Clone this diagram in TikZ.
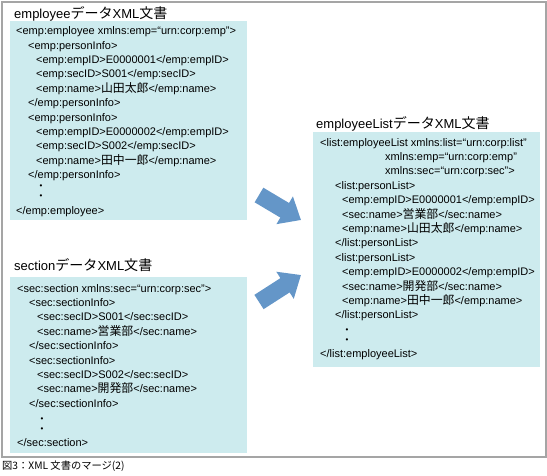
\documentclass[tikz,border=0pt]{standalone}
\usepackage{fontspec}
\setmainfont{Liberation Sans}
\newfontfamily\cjk[Scale=1.08]{Noto Sans CJK JP}
\usetikzlibrary{arrows.meta}
\newcommand\jp[1]{{\cjk #1}}
\newcommand\ia{\hspace*{12pt}}
\newcommand\ib{\hspace*{20pt}}
\newcommand\vdot{\hspace*{3.5pt}{\fontsize{8}{8}\selectfont\textbullet}}
\definecolor{boxcyan}{RGB}{205,235,238}
\definecolor{arrowblue}{RGB}{100,150,200}
\definecolor{framegray}{RGB}{165,165,165}
\tikzstyle{xmlbox} = [fill=boxcyan, rectangle, anchor=north west, inner sep=0]
\tikzstyle{xmltext} = [anchor=north west, align=left, inner sep=0,
font=\fontsize{11}{14.4}\selectfont]
\tikzstyle{doctitle} = [anchor=west, inner sep=0, font=\fontsize{13}{15}\selectfont]
\tikzstyle{bigarrow} = [draw=arrowblue, line width=17pt,
-{Triangle[length=19pt,width=31pt]}]

\begin{document}
\begin{tikzpicture}[x=1pt, y=-1pt]
    \useasboundingbox (0,0) rectangle (547,475);
    % the frame and the caption
    \node [draw=framegray, line width=1.5pt, rectangle, anchor=north west,
    minimum width=544pt, minimum height=455pt] (frame) at (1,1) {};
    \node [anchor=west, inner sep=0, font=\cjk\fontsize{9.5}{12}\selectfont] (caption) at (2,466) {図3：XML 文書のマージ(2)};

    % We start by placing the boxes
    \node [xmlbox, minimum width=237pt, minimum height=199pt] (empbox) at (10,21) {};
    \node [xmlbox, minimum width=237pt, minimum height=176pt] (secbox) at (10,277) {};
    \node [xmlbox, minimum width=227pt, minimum height=235pt] (listbox) at (313,132) {};

    \node [doctitle] (emptitle) at ([shift={(4,-7)}]empbox.north west) {employee\jp{データ}XML\jp{文書}};
    \node [doctitle] (sectitle) at ([shift={(4,-12)}]secbox.north west) {section\jp{データ}XML\jp{文書}};
    \node [doctitle] (listtitle) at ([shift={(3,-8)}]listbox.north west) {employeeList\jp{データ}XML\jp{文書}};

    \node [xmltext] (emptext) at ([shift={(6,5.5)}]empbox.north west) {%
    <emp:employee xmlns:emp=“urn:corp:emp”>\\
    \ia<emp:personInfo>\\
    \ib<emp:empID>E0000001</emp:empID>\\
    \ib<emp:secID>S001</emp:secID>\\
    \ib<emp:name>\jp{山田太郎}</emp:name>\\
    \ia</emp:personInfo>\\
    \ia<emp:personInfo>\\
    \ib<emp:empID>E0000002</emp:empID>\\
    \ib<emp:secID>S002</emp:secID>\\
    \ib<emp:name>\jp{田中一郎}</emp:name>\\
    \ia</emp:personInfo>\\[-4.6pt]
    \ib\vdot\\[-4.4pt]
    \ib\vdot\\[1.8pt]
    </emp:employee>};

    \node [xmltext] (sectext) at ([shift={(7,7)}]secbox.north west) {%
    <sec:section xmlns:sec=“urn:corp:sec”>\\
    \ia<sec:sectionInfo>\\
    \ib<sec:secID>S001</sec:secID>\\
    \ib<sec:name>\jp{営業部}</sec:name>\\
    \ia</sec:sectionInfo>\\
    \ia<sec:sectionInfo>\\
    \ib<sec:secID>S002</sec:secID>\\
    \ib<sec:name>\jp{開発部}</sec:name>\\
    \ia</sec:sectionInfo>\\[0.2pt]
    \ib\vdot\\[-4.4pt]
    \ib\vdot\\[0pt]
    </sec:section>};

    \node [xmltext] (listtext) at ([shift={(7,6)}]listbox.north west) {%
    <list:employeeList xmlns:list=“urn:corp:list”\\
    \hspace*{65pt}xmlns:emp=“urn:corp:emp”\\
    \hspace*{65pt}xmlns:sec=“urn:corp:sec”>\\
    \hspace*{15pt}<list:personList>\\
    \hspace*{22pt}<emp:empID>E0000001</emp:empID>\\
    \hspace*{22pt}<sec:name>\jp{営業部}</sec:name>\\
    \hspace*{22pt}<emp:name>\jp{山田太郎}</emp:name>\\
    \hspace*{15pt}</list:personList>\\
    \hspace*{15pt}<list:personList>\\
    \hspace*{22pt}<emp:empID>E0000002</emp:empID>\\
    \hspace*{22pt}<sec:name>\jp{開発部}</sec:name>\\
    \hspace*{22pt}<emp:name>\jp{田中一郎}</emp:name>\\
    \hspace*{15pt}</list:personList>\\[-0.8pt]
    \hspace*{22pt}\vdot\\[-4.4pt]
    \hspace*{22pt}\vdot\\[1pt]
    </list:employeeList>};

    % Once the boxes are placed, the merge arrows
    \coordinate (upperTail) at (259,195);
    \coordinate (upperTip) at (301,220);
    \coordinate (lowerTail) at (259,302);
    \coordinate (lowerTip) at (301,275);
    \draw [bigarrow] (upperTail) -- (upperTip);
    \draw [bigarrow] (lowerTail) -- (lowerTip);
\end{tikzpicture}
\end{document}
